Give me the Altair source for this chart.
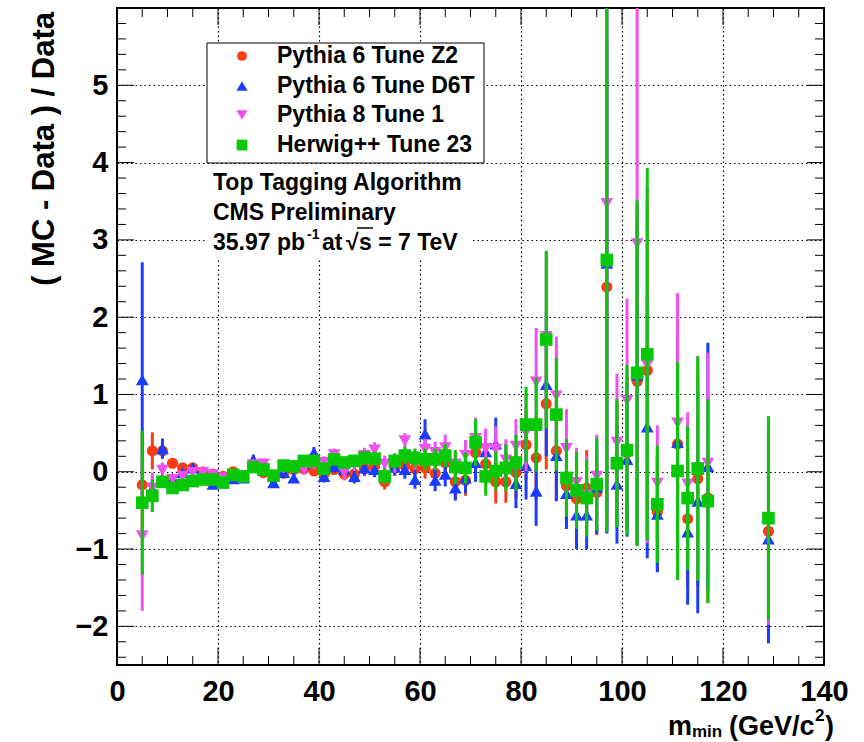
import altair as alt
import pandas as pd

# ---------------- data ----------------
x_vals = [5, 7, 9, 11, 13, 15, 17, 19, 21, 23, 25, 27, 29, 31, 33, 35, 37, 39, 41, 43,
          45, 47, 49, 51, 53, 55, 57, 59, 61, 63, 65, 67, 69, 71, 73, 75, 77, 79, 81, 83,
          85, 87, 89, 91, 93, 95, 97, 99, 101, 103, 105, 107, 111, 113, 115, 117, 129]

z2_vals = [-0.17, 0.27, 0.27, 0.11, 0.05, 0.05, 0.00, -0.03, -0.06, 0.00, -0.05, 0.06, -0.01, -0.08, -0.02, 0.03, 0.04, 0.01, -0.03, 0.03,
           -0.03, -0.03, 0.04, 0.07, -0.13, 0.05, 0.08, 0.04, 0.05, -0.02, 0.12, -0.13, -0.11, 0.25, 0.10, -0.13, -0.13, -0.01, 0.35, 0.18,
           0.88, 0.27, -0.18, -0.35, -0.21, -0.27, 2.39, 0.10, 0.25, 1.17, 1.31, -0.52, 0.36, -0.61, -0.09, -0.34, -0.77]
z2_err = [0.70, 0.24, 0.10, 0.05, 0.04, 0.04, 0.04, 0.04, 0.04, 0.04, 0.04, 0.05, 0.05, 0.05, 0.05, 0.05, 0.06, 0.06, 0.07, 0.07,
          0.08, 0.08, 0.09, 0.09, 0.10, 0.10, 0.12, 0.12, 0.14, 0.14, 0.16, 0.24, 0.20, 0.25, 0.25, 0.28, 0.27, 0.33, 0.45, 0.55,
          0.85, 0.65, 0.50, 0.45, 0.49, 0.55, 3.18, 0.80, 1.00, 2.10, 2.20, 0.75, 1.40, 0.90, 1.40, 1.35, 1.35]

d6t_vals = [1.19, -0.22, 0.30, -0.08, -0.01, 0.05, -0.05, -0.16, -0.10, -0.09, -0.08, 0.16, 0.02, -0.14, -0.01, -0.08, 0.10, 0.25, -0.06, 0.07,
            0.03, -0.06, 0.05, 0.03, -0.04, 0.06, 0.03, -0.10, 0.49, -0.11, -0.03, -0.21, -0.08, 0.12, 0.26, 0.36, 0.08, -0.15, 0.08, -0.25,
            1.13, 0.21, -0.28, -0.56, -0.56, -0.20, 2.70, -0.16, 0.16, 1.25, 0.58, -0.55, 0.38, -0.78, -0.38, 0.07, -0.87]
d6t_err = [1.52, 0.15, 0.13, 0.05, 0.04, 0.04, 0.04, 0.05, 0.05, 0.05, 0.05, 0.06, 0.06, 0.06, 0.06, 0.06, 0.07, 0.07, 0.08, 0.08,
           0.09, 0.09, 0.10, 0.10, 0.11, 0.11, 0.12, 0.12, 0.19, 0.14, 0.16, 0.16, 0.20, 0.25, 0.25, 0.34, 0.28, 0.32, 0.44, 0.45,
           0.93, 0.59, 0.46, 0.44, 0.44, 0.60, 3.50, 0.77, 1.00, 2.20, 1.70, 0.75, 1.40, 0.94, 1.45, 1.60, 1.35]

p8_vals = [-0.83, -0.21, 0.02, -0.10, -0.06, -0.01, -0.01, -0.04, -0.08, -0.05, -0.07, 0.09, 0.10, -0.05, 0.05, 0.06, 0.03, 0.10, 0.12, 0.22,
           -0.01, 0.10, 0.21, 0.28, 0.10, 0.10, 0.40, 0.15, 0.29, 0.25, 0.31, 0.10, 0.21, 0.43, 0.30, 0.29, 0.15, 0.33, 0.51, 1.16,
           1.75, 0.98, 0.30, -0.14, -0.30, -0.06, 3.47, 0.38, 0.92, 2.95, 1.38, -0.15, 0.63, -0.16, 0.05, 0.11, -0.65]
p8_err = [0.97, 0.20, 0.10, 0.05, 0.04, 0.04, 0.04, 0.05, 0.05, 0.05, 0.05, 0.06, 0.06, 0.06, 0.06, 0.06, 0.07, 0.07, 0.08, 0.08,
          0.09, 0.09, 0.10, 0.10, 0.11, 0.11, 0.10, 0.12, 0.14, 0.14, 0.17, 0.18, 0.20, 0.27, 0.26, 0.30, 0.27, 0.35, 0.50, 0.70,
          1.10, 0.77, 0.51, 0.45, 0.50, 0.54, 4.20, 0.89, 1.32, 3.90, 2.30, 0.75, 1.68, 0.93, 1.45, 1.43, 1.33]

hpp_vals = [-0.40, -0.31, -0.13, -0.21, -0.17, -0.12, -0.10, -0.10, -0.14, -0.04, -0.06, 0.06, 0.03, -0.05, 0.08, 0.07, 0.14, 0.14, 0.04, 0.16,
            0.12, 0.14, 0.18, 0.17, -0.06, 0.14, 0.21, 0.18, 0.16, 0.16, 0.21, 0.06, 0.05, 0.38, -0.06, 0.01, 0.05, 0.12, 0.61, 0.61,
            1.71, 0.74, -0.08, -0.24, -0.34, -0.16, 2.74, 0.11, 0.28, 1.28, 1.52, -0.42, 0.01, -0.34, 0.04, -0.38, -0.60]
hpp_err = [0.93, 0.21, 0.08, 0.05, 0.04, 0.04, 0.04, 0.04, 0.04, 0.04, 0.05, 0.05, 0.05, 0.05, 0.05, 0.06, 0.06, 0.06, 0.07, 0.07,
           0.08, 0.08, 0.09, 0.09, 0.10, 0.10, 0.11, 0.12, 0.14, 0.14, 0.15, 0.22, 0.20, 0.30, 0.25, 0.25, 0.30, 0.36, 0.49, 0.61,
           1.15, 0.73, 0.50, 0.50, 0.50, 0.60, 3.52, 0.83, 1.10, 2.24, 2.41, 0.76, 1.41, 0.93, 1.45, 1.32, 1.32]

series_names = ["Pythia 6 Tune Z2", "Pythia 6 Tune D6T", "Pythia 8 Tune 1", "Herwig++ Tune 23"]
series_colors = ["#fa3c12", "#1a3cff", "#f050f0", "#08c808"]
series_shapes = ["circle", "triangle-up", "triangle-down", "square"]
series_sizes = [125, 165, 165, 160]
legend_sizes = [95, 125, 125, 115]

x_tick_labels = [0, 20, 40, 60, 80, 100, 120, 140]
y_tick_labels = [-2, -1, 0, 1, 2, 3, 4, 5]
x_major = [20, 40, 60, 80, 100, 120]
x_minor = [5, 10, 15, 25, 30, 35, 45, 50, 55, 65, 70, 75, 85, 90, 95, 105, 110, 115, 125, 130, 135]
y_major = [-2, -1, 0, 1, 2, 3, 4, 5]
y_minor = [-2.4, -2.2, -1.8, -1.6, -1.4, -1.2, -0.8, -0.6, -0.4, -0.2, 0.2, 0.4, 0.6, 0.8,
           1.2, 1.4, 1.6, 1.8, 2.2, 2.4, 2.6, 2.8, 3.2, 3.4, 3.6, 3.8, 4.2, 4.4, 4.6, 4.8,
           5.2, 5.4, 5.6, 5.8]

# ---------------- layout ----------------
W, H = 707, 657
FONT = "Liberation Sans"
xs = alt.Scale(domain=[0, 140], nice=False, zero=False)
ys = alt.Scale(domain=[-2.5, 6], nice=False, zero=False)

xaxis = alt.Axis(values=x_tick_labels, grid=True, gridDash=[1.5, 3], gridColor="black",
                 gridOpacity=1, gridWidth=1.2, ticks=False, tickSize=0, domain=False,
                 labelFont=FONT, labelFontWeight="bold", labelFontSize=29, labelColor="black",
                 labelPadding=12, labelFlush=False, labelOverlap=False, title=None)
yaxis = alt.Axis(values=y_tick_labels, grid=True, gridDash=[1.5, 3], gridColor="black",
                 gridOpacity=1, gridWidth=1.2, ticks=False, tickSize=0, domain=False,
                 labelFont=FONT, labelFontWeight="bold", labelFontSize=29, labelColor="black",
                 labelPadding=9, labelFlush=False, labelOverlap=False, title=None)

def X(field):
    return alt.X(field, type="quantitative", scale=xs, axis=xaxis)

def Y(field):
    return alt.Y(field, type="quantitative", scale=ys, axis=yaxis)

layers = []

# axis carrier
base_df = pd.DataFrame({"x": [0, 140], "y": [-2.5, 6]})
layers.append(alt.Chart(base_df).mark_point(opacity=0).encode(x=X("x"), y=Y("y")))

# data series
all_vals = [z2_vals, d6t_vals, p8_vals, hpp_vals]
all_errs = [z2_err, d6t_err, p8_err, hpp_err]
for name, vals, errs, col, shp, sz in zip(series_names, all_vals, all_errs,
                                          series_colors, series_shapes, series_sizes):
    df = pd.DataFrame({"x": x_vals, "v": vals,
                       "lo": [v - e for v, e in zip(vals, errs)],
                       "hi": [v + e for v, e in zip(vals, errs)]})
    layers.append(alt.Chart(df).mark_rule(color=col, strokeWidth=3, clip=True).encode(
        x=X("x"), y=Y("lo"), y2="hi"))
    layers.append(alt.Chart(df).mark_point(shape=shp, filled=True, fill=col, stroke=None,
                                           size=sz, opacity=1, clip=True).encode(
        x=X("x"), y=Y("v")))

# inward ticks
TMAJ, TMIN = 17, 9
xmaj_df = pd.DataFrame({"t": x_major})
xmin_df = pd.DataFrame({"t": x_minor})
ymaj_df = pd.DataFrame({"t": y_major})
ymin_df = pd.DataFrame({"t": y_minor})
for dfx, L in [(xmaj_df, TMAJ), (xmin_df, TMIN)]:
    layers.append(alt.Chart(dfx).mark_rule(color="black", strokeWidth=1).encode(
        x=X("t"), y=alt.value(H), y2=alt.value(H - L)))
    layers.append(alt.Chart(dfx).mark_rule(color="black", strokeWidth=1).encode(
        x=X("t"), y=alt.value(0), y2=alt.value(L)))
for dfy, L in [(ymaj_df, TMAJ), (ymin_df, TMIN)]:
    layers.append(alt.Chart(dfy).mark_rule(color="black", strokeWidth=1).encode(
        y=Y("t"), x=alt.value(0), x2=alt.value(L)))
    layers.append(alt.Chart(dfy).mark_rule(color="black", strokeWidth=1).encode(
        y=Y("t"), x=alt.value(W), x2=alt.value(W - L)))

one = pd.DataFrame({"k": [0]})

# legend box
layers.append(alt.Chart(one).mark_rect(fill="white", stroke="black", strokeWidth=1).encode(
    x=alt.value(90), x2=alt.value(367), y=alt.value(35), y2=alt.value(155)))
leg_y = [48, 78, 107, 137]
for name, col, shp, sz, ly in zip(series_names, series_colors, series_shapes, legend_sizes, leg_y):
    layers.append(alt.Chart(one).mark_point(shape=shp, filled=True, fill=col, stroke=None,
                                            size=sz, opacity=1).encode(
        x=alt.value(125), y=alt.value(ly)))
    layers.append(alt.Chart(pd.DataFrame({"t": [name]})).mark_text(
        font=FONT, fontWeight="bold", fontSize=23, align="left", baseline="middle",
        color="black").encode(text="t:N", x=alt.value(160), y=alt.value(ly)))

# annotation pave
layers.append(alt.Chart(one).mark_rect(fill="white", stroke=None).encode(
    x=alt.value(90), x2=alt.value(355), y=alt.value(156), y2=alt.value(250)))

def txt(s, x, y, size=23, align="left", baseline="alphabetic", angle=0):
    return alt.Chart(pd.DataFrame({"t": [s]})).mark_text(
        font=FONT, fontWeight="bold", fontSize=size, align=align, baseline=baseline,
        angle=angle, color="black").encode(text="t:N", x=alt.value(x), y=alt.value(y))

layers.append(txt("Top Tagging Algorithm", 96, 182))
layers.append(txt("CMS Preliminary", 96, 212))
layers.append(txt("35.97 pb", 96, 242))
layers.append(txt("-1", 190, 231, size=14))
layers.append(txt("at", 205, 242))
layers.append(txt("\u221A", 229, 242))
layers.append(txt("s = 7 TeV", 242, 242))
layers.append(alt.Chart(one).mark_rule(color="black", strokeWidth=1.5).encode(
    x=alt.value(240), x2=alt.value(256), y=alt.value(220)))

# axis titles
layers.append(txt("( MC - Data ) / Data", -72, 4, size=31, align="right",
                  baseline="middle", angle=270))
layers.append(txt("m", 551, 727, size=27))
layers.append(txt("min", 575, 729, size=17))
layers.append(txt("(GeV/c", 612, 727, size=27))
layers.append(txt("2", 698, 713, size=17))
layers.append(txt(")", 708, 727, size=27))

chart = alt.layer(*layers).properties(
    width=W, height=H,
    autosize=alt.AutoSizeParams(type="none"),
    padding={"left": 117, "top": 8, "right": 40, "bottom": 77},
    background="white",
).configure_view(stroke="black", strokeWidth=2)

chart.save("out.html", embed_options={"renderer": "svg", "actions": False})
